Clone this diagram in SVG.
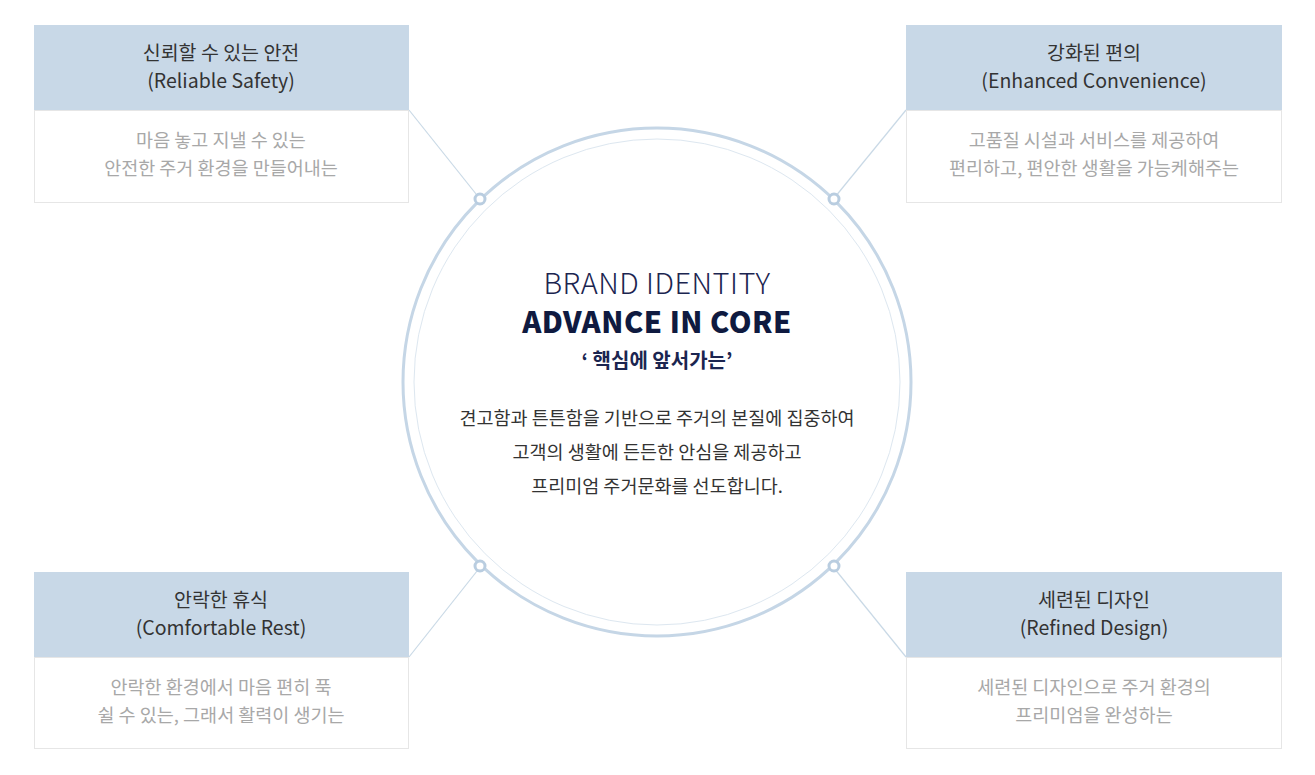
<svg xmlns="http://www.w3.org/2000/svg" width="1315" height="775" viewBox="0 0 1315 775">
<style>
.hd{fill:#c8d8e7}
.bd{fill:#fff;stroke:#e6e6e6;stroke-width:1}
.t{font-family:"Noto Sans CJK KR","Noto Sans",sans-serif;text-anchor:middle}
.ht{font-size:19.5px;fill:#333}
.bt{font-size:18.5px;fill:#a8a8a8}
.ln{stroke:#c9d9e6;stroke-width:1.2;fill:none}
.dot{fill:#fff;stroke:#b9cde0;stroke-width:3}
</style>
<rect width="1315" height="775" fill="#fff"/>
<g id="connectors">
<line class="ln" x1="409" y1="110" x2="500" y2="224"/>
<line class="ln" x1="906" y1="110" x2="813" y2="224"/>
<line class="ln" x1="409" y1="657" x2="500" y2="542"/>
<line class="ln" x1="906" y1="657" x2="813" y2="542"/>
</g>
<g id="center">
<circle cx="657" cy="382" r="254" fill="#fff" stroke="#c5d6e6" stroke-width="3"/>
<circle cx="657" cy="382" r="243" fill="none" stroke="#dde7f0" stroke-width="1"/>
<circle class="dot" cx="480" cy="199" r="5"/>
<circle class="dot" cx="834" cy="199" r="5"/>
<circle class="dot" cx="480" cy="566" r="5"/>
<circle class="dot" cx="834" cy="566" r="5"/>
<text class="t" x="657" y="294" font-size="29" font-weight="300" fill="#1b2550" letter-spacing="0.5">BRAND IDENTITY</text>
<text class="t" x="657" y="333" font-size="29" font-weight="900" fill="#0f1a40" letter-spacing="0.5">ADVANCE IN CORE</text>
<text class="t" x="657" y="368" font-size="20" font-weight="bold" fill="#1b2550">‘ 핵심에 앞서가는’</text>
<text class="t" x="657" y="425" font-size="18.5" fill="#333">견고함과 튼튼함을 기반으로 주거의 본질에 집중하여</text>
<text class="t" x="657" y="459" font-size="18.5" fill="#333">고객의 생활에 든든한 안심을 제공하고</text>
<text class="t" x="657" y="493" font-size="18.5" fill="#333">프리미엄 주거문화를 선도합니다.</text>
</g>
<g id="node-tl">
<rect class="bd" x="34.5" y="110.5" width="374" height="92"/>
<rect class="hd" x="34" y="25" width="375" height="85"/>
<text class="t ht" x="221" y="60">신뢰할 수 있는 안전</text>
<text class="t ht" x="221" y="88">(Reliable Safety)</text>
<text class="t bt" x="221" y="147">마음 놓고 지낼 수 있는</text>
<text class="t bt" x="221" y="175">안전한 주거 환경을 만들어내는</text>
</g>
<g id="node-tr">
<rect class="bd" x="906.5" y="110.5" width="375" height="92"/>
<rect class="hd" x="906" y="25" width="376" height="85"/>
<text class="t ht" x="1094" y="60">강화된 편의</text>
<text class="t ht" x="1094" y="88">(Enhanced Convenience)</text>
<text class="t bt" x="1094" y="147">고품질 시설과 서비스를 제공하여</text>
<text class="t bt" x="1094" y="175">편리하고, 편안한 생활을 가능케해주는</text>
</g>
<g id="node-bl">
<rect class="bd" x="34.5" y="657.5" width="374" height="91"/>
<rect class="hd" x="34" y="572" width="375" height="85"/>
<text class="t ht" x="221" y="607">안락한 휴식</text>
<text class="t ht" x="221" y="635">(Comfortable Rest)</text>
<text class="t bt" x="221" y="694">안락한 환경에서 마음 편히 푹</text>
<text class="t bt" x="221" y="722">쉴 수 있는, 그래서 활력이 생기는</text>
</g>
<g id="node-br">
<rect class="bd" x="906.5" y="657.5" width="375" height="91"/>
<rect class="hd" x="906" y="572" width="376" height="85"/>
<text class="t ht" x="1094" y="607">세련된 디자인</text>
<text class="t ht" x="1094" y="635">(Refined Design)</text>
<text class="t bt" x="1094" y="694">세련된 디자인으로 주거 환경의</text>
<text class="t bt" x="1094" y="722">프리미엄을 완성하는</text>
</g>
</svg>
